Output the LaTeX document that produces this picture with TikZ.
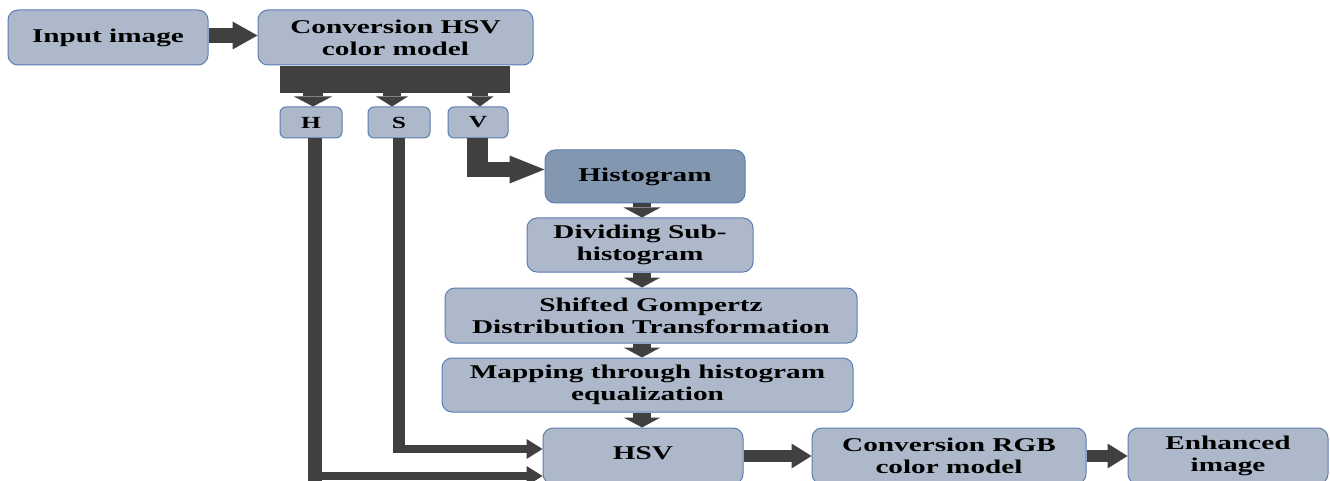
\documentclass[tikz,border=0pt]{standalone}
\usepackage{fontspec}
\setmainfont{Liberation Serif}[FakeStretch=1.5]
\usetikzlibrary{arrows.meta}
\definecolor{boxfill}{HTML}{ADB9CA}
\definecolor{histfill}{HTML}{8497B0}
\definecolor{boxline}{HTML}{5B7DB1}
\definecolor{arr}{HTML}{404040}
\begin{document}
\begin{tikzpicture}[x=1pt,y=-1pt,
  box/.style={draw=boxline, line width=1pt, fill=boxfill, rounded corners=10pt,
    align=center, inner sep=0pt, font=\fontsize{19.5}{22}\selectfont\bfseries},
  small/.style={box, rounded corners=6pt, minimum width=62pt, minimum height=31pt,
    font=\fontsize{17}{20}\selectfont\bfseries},
  barrow/.style n args={3}{draw=arr, line width=#1,
    -{Triangle[width=#2, length=#3, line width=0pt]}},
  vline/.style={draw=arr, line width=#1},
]
\useasboundingbox (0,0) rectangle (1330,481);
\clip (0,0) rectangle (1330,481);

% nodes
\node[box, minimum width=200pt, minimum height=55pt] (in) at (108,37.5) {Input image};
\node[box, minimum width=275pt, minimum height=55pt] (conv) at (395.5,37.5) {Conversion HSV\\color model};
\node[fill=arr, inner sep=0pt, minimum width=230pt, minimum height=27pt, anchor=north] (bar) at (395,66) {};
\node[small] (H) at (311,122.5) {H};
\node[small] (S) at (399,122.5) {S};
\node[small, minimum width=60pt] (V) at (478,122.5) {V};
\node[box, fill=histfill, minimum width=200pt, minimum height=53pt] (hist) at (645,176.5) {Histogram};
\node[box, minimum width=226pt, minimum height=54pt] (div) at (640,245) {Dividing Sub-\\histogram};
\node[box, minimum width=412pt, minimum height=55pt] (shift) at (651,315.5) {Shifted Gompertz\\Distribution Transformation};
\node[box, minimum width=411pt, minimum height=54pt] (map) at (647.5,385) {Mapping through histogram\\equalization};
\node[box, minimum width=200pt, minimum height=56pt] (hsv) at (643,456) {\raisebox{6pt}{HSV}};
\node[box, minimum width=274pt, minimum height=56pt] (rgb) at (949,456) {Conversion RGB\\color model};
\node[box, minimum width=200pt, minimum height=56pt] (enh) at (1228,456) {Enhanced\\image};

% horizontal block arrows
\draw[barrow={15pt}{28pt}{25pt}] (in.east |- 0,35.5) -- (conv.west |- 0,35.5);
\draw[barrow={12pt}{25pt}{20pt}] (hsv.east |- 0,456) -- (rgb.west |- 0,456);
\draw[barrow={12pt}{25pt}{20pt}] (rgb.east |- 0,456) -- (enh.west |- 0,456);

% bar to H, S, V
\draw[barrow={20pt}{38pt}{10pt}] (bar.south -| 313,0) -- (H.north -| 313,0);
\draw[barrow={18pt}{32pt}{10pt}] (bar.south -| 392,0) -- (S.north -| 392,0);
\draw[barrow={16pt}{27pt}{10pt}] (bar.south -| 480,0) -- (V.north -| 480,0);

% V to histogram
\draw[vline=21pt] (V.south -| 477.5,0) -- (477.5,177);
\draw[barrow={15pt}{28pt}{35pt}] (467,169.5) -- (hist.west |- 0,169.5);

% vertical chain
\coordinate (ax) at (642,0);
\draw[barrow={18pt}{37pt}{10pt}] (hist.south -| ax) -- (div.north -| ax);
\draw[barrow={18pt}{37pt}{10pt}] (div.south -| ax) -- (shift.north -| ax);
\draw[barrow={18pt}{37pt}{10pt}] (shift.south -| ax) -- (map.north -| ax);
\draw[barrow={18pt}{37pt}{10pt}] (map.south -| ax) -- (hsv.north -| ax);

% S to HSV
\draw[vline=12pt] (S.south -| 399,0) -- (399,453);
\draw[barrow={8pt}{20pt}{16pt}] (393,449) -- (hsv.west |- 0,449);

% H to HSV
\draw[vline=14pt] (H.south -| 315,0) -- (315,481);
\draw[barrow={8pt}{20pt}{16pt}] (308,476) -- (hsv.west |- 0,476);
\end{tikzpicture}
\end{document}
